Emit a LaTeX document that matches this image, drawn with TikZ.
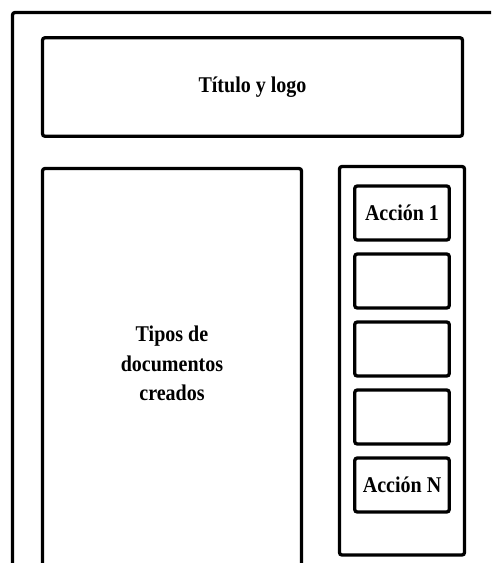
\documentclass[tikz,border=0pt]{standalone}
\usepackage{fontspec}
\setmainfont{Liberation Serif}[FakeStretch=0.89]
\usetikzlibrary{positioning}
\tikzset{
  caja/.style={draw,line width=3.3pt,rounded corners=2.5pt,inner sep=0pt},
  texto/.style={font=\bfseries\fontsize{22.5}{29.5}\selectfont,align=center,inner sep=0pt},
  accion/.style={caja,texto,minimum width=94.5pt,minimum height=54pt}
}

\begin{document}
\begin{tikzpicture}[x=1pt,y=-1pt]
  \useasboundingbox (0,0) rectangle (491,563);
  \clip (0,0) rectangle (491,563);
  % marco de la pantalla
  \draw[line width=3.3pt,rounded corners=2.5pt] (12.5,620) -- (12.5,12.5) -- (540,12.5);
  % cabecera
  \node[caja,texto,minimum width=420pt,minimum height=98.5pt] (titulo) at (252.5,87) {Título y logo};
  % zona de documentos
  \node[caja,minimum width=259pt,minimum height=420pt] (docs) at (172,378.5) {};
  \node[texto] (docstxt) at ([yshift=15pt]docs.center) {Tipos de\\documentos\\creados};
  % panel de acciones
  \node[caja,minimum width=125pt,minimum height=388.5pt] (panel) at (402,360.75) {};
  \node[accion] (acc1) at (402,213) {Acción 1};
  \node[accion] (acc2) at (402,281) {};
  \node[accion] (acc3) at (402,349) {};
  \node[accion] (acc4) at (402,417) {};
  \node[accion] (accN) at (402,485) {Acción N};
\end{tikzpicture}
\end{document}
